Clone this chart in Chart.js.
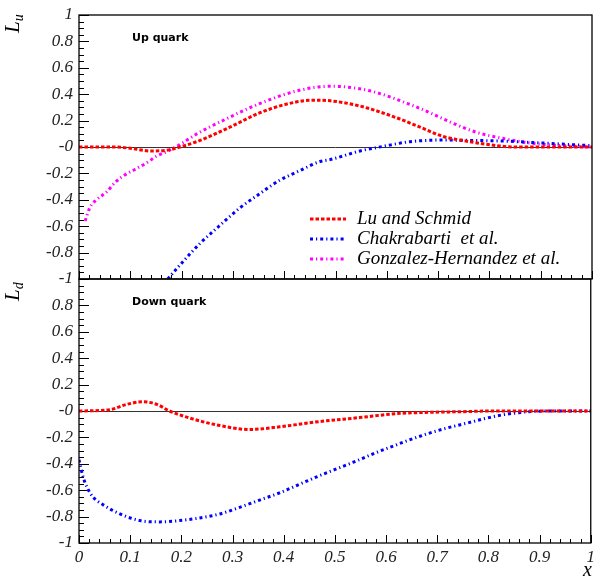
<!DOCTYPE html>
<html>
<head>
<meta charset="utf-8">
<script src="https://cdn.jsdelivr.net/npm/chart.js@4/dist/chart.umd.min.js"></script>
<style>
  body { margin: 0; background: #fff; }
  #wrap { position: relative; width: 599px; height: 578px; }
  canvas { position: absolute; left: 0; }
  #up { top: 0; }
  #down { top: 270px; }
</style>
</head>
<body>
<div id="wrap">
  <canvas id="up" width="599" height="290"></canvas>
  <canvas id="down" width="599" height="308"></canvas>
</div>
<script>
////////////////////////////// dades ///////////////////////////////////////////
const seriesNames = ['Lu and Schmid', 'Chakrabarti  et al.', 'Gonzalez-Hernandez et al.']

// up quark, L_u
const upLuX = [0, 0.04, 0.07, 0.1, 0.14, 0.17, 0.197, 0.236, 0.294, 0.353, 0.41, 0.456, 0.49, 0.548, 0.62, 0.665, 0.71, 0.762, 0.815, 0.846, 0.9, 0.95, 1]
const upLuY = [0, 0, 0, -0.01, -0.03, -0.025, 0, 0.05, 0.15, 0.26, 0.33, 0.355, 0.35, 0.31, 0.22, 0.15, 0.08, 0.04, 0.01, 0, 0, 0, 0]

const upChX = [0.173, 0.2, 0.236, 0.27, 0.314, 0.35, 0.392, 0.43, 0.47, 0.49, 0.548, 0.593, 0.645, 0.71, 0.762, 0.827, 0.905, 0.95, 1]
const upChY = [-1, -0.88, -0.73, -0.61, -0.46, -0.36, -0.25, -0.18, -0.11, -0.095, -0.03, 0.005, 0.04, 0.053, 0.05, 0.045, 0.03, 0.02, 0.01]

const upGhX = [0.012, 0.021, 0.034, 0.054, 0.07, 0.09, 0.109, 0.132, 0.151, 0.171, 0.193, 0.23, 0.275, 0.353, 0.43, 0.49, 0.52, 0.573, 0.64, 0.684, 0.729, 0.776, 0.82, 0.879, 0.944, 1]
const upGhY = [-0.56, -0.46, -0.40, -0.34, -0.27, -0.21, -0.17, -0.12, -0.07, -0.035, 0.01, 0.1, 0.19, 0.33, 0.43, 0.46, 0.455, 0.42, 0.33, 0.26, 0.18, 0.11, 0.07, 0.03, 0.01, 0]

// down quark, L_d
const downLuX = [0, 0.06, 0.093, 0.125, 0.152, 0.177, 0.222, 0.275, 0.333, 0.392, 0.47, 0.548, 0.62, 0.684, 0.75, 0.8, 0.9, 1]
const downLuY = [0, 0.01, 0.05, 0.07, 0.05, 0, -0.06, -0.11, -0.14, -0.12, -0.08, -0.05, -0.02, -0.01, -0.005, 0, 0, 0]

const downChX = [0, 0.008, 0.016, 0.027, 0.047, 0.08, 0.119, 0.158, 0.197, 0.236, 0.275, 0.314, 0.353, 0.392, 0.431, 0.47, 0.502, 0.535, 0.58, 0.619, 0.645, 0.691, 0.717, 0.762, 0.801, 0.834, 0.86, 0.879, 0.94, 1]
const downChY = [-0.37, -0.5, -0.58, -0.65, -0.71, -0.78, -0.83, -0.84, -0.83, -0.81, -0.78, -0.73, -0.675, -0.62, -0.555, -0.49, -0.44, -0.39, -0.316, -0.258, -0.22, -0.16, -0.131, -0.088, -0.05, -0.025, -0.013, -0.005, 0, 0]

const yTicks = [-1, -0.8, -0.6, -0.4, -0.2, 0, 0.2, 0.4, 0.6, 0.8, 1]
const xTicks = [0, 0.1, 0.2, 0.3, 0.4, 0.5, 0.6, 0.7, 0.8, 0.9, 1]
////////////////////////////////////////////////////////////////////////////////

const serif = '"Liberation Serif", "Times New Roman", serif'

function punts(xs, ys) {
  return xs.map((x, i) => ({ x: x, y: ys[i] }))
}

function estil(label, color, dash, data) {
  return {
    label: label,
    data: data,
    borderColor: color,
    borderWidth: 3,
    borderDash: dash,
    pointRadius: 0,
    fill: false,
    cubicInterpolationMode: 'monotone'
  }
}

function etiquetaY(v) {
  if (Math.abs(v) < 1e-9) return '-0'
  return String(+v.toFixed(1))
}

////////////////// marc, ticks interiors i linia del zero //////////////////////
const marcPlugin = {
  id: 'marc',
  beforeDatasetsDraw(chart) {
    const ctx = chart.ctx
    const a = chart.chartArea
    const xs = chart.scales.x
    const ys = chart.scales.y
    ctx.save()
    // linia del zero
    ctx.strokeStyle = '#333'
    ctx.lineWidth = 1
    ctx.beginPath()
    let y0 = Math.round(ys.getPixelForValue(0)) + 0.5
    ctx.moveTo(a.left, y0)
    ctx.lineTo(a.right, y0)
    ctx.stroke()
    // ticks eix y
    ctx.strokeStyle = '#000'
    ctx.beginPath()
    for (let i = 0; i <= 40; i++) {
      let v = -1 + i * 0.05
      let py = Math.round(ys.getPixelForValue(v)) + 0.5
      let len = (i % 4 === 0) ? 10 : 5
      ctx.moveTo(a.left, py)
      ctx.lineTo(a.left + len, py)
    }
    // ticks eix x
    for (let i = 0; i <= 50; i++) {
      let v = i * 0.02
      let px = Math.round(xs.getPixelForValue(v)) + 0.5
      let len = (i % 5 === 0) ? 8 : 4
      ctx.moveTo(px, a.bottom)
      ctx.lineTo(px, a.bottom - len)
    }
    ctx.stroke()
    ctx.restore()
  },
  afterDraw(chart) {
    const ctx = chart.ctx
    const a = chart.chartArea
    ctx.save()
    ctx.strokeStyle = '#000'
    ctx.lineWidth = 1.3
    ctx.strokeRect(a.left, a.top, a.right - a.left, a.bottom - a.top)
    ctx.restore()
  }
}

/////////////////////// textos de cada panell //////////////////////////////////
function textPlugin(titol, sub, titolY, llegenda) {
  return {
    id: 'textos',
    afterDraw(chart) {
      const ctx = chart.ctx
      const a = chart.chartArea
      ctx.save()
      ctx.fillStyle = '#000'
      ctx.font = 'bold 11px "DejaVu Sans", sans-serif'
      ctx.textBaseline = 'middle'
      ctx.textAlign = 'left'
      ctx.fillText(titol, 132, a.top + 23)

      // titol eix y, girat
      ctx.translate(19, titolY)
      ctx.rotate(-Math.PI / 2)
      ctx.textBaseline = 'alphabetic'
      ctx.font = 'italic 21px ' + serif
      ctx.fillText('L', 0, 0)
      let w = ctx.measureText('L').width
      ctx.font = 'italic 14px ' + serif
      ctx.fillText(sub, w, 4)
      ctx.restore()

      if (llegenda) {
        ctx.save()
        chart.data.datasets.forEach((ds, i) => {
          let py = 219 + i * 20
          ctx.strokeStyle = ds.borderColor
          ctx.lineWidth = ds.borderWidth
          ctx.setLineDash(ds.borderDash)
          ctx.beginPath()
          ctx.moveTo(310, py)
          ctx.lineTo(346, py)
          ctx.stroke()
          ctx.setLineDash([])
          ctx.fillStyle = '#000'
          ctx.font = 'italic 19px ' + serif
          ctx.textBaseline = 'middle'
          ctx.fillText(ds.label, 357, py)
        })
        ctx.restore()
      }
    }
  }
}

function escalaY(amagaDalt) {
  return {
    type: 'linear',
    min: -1,
    max: 1,
    afterFit: s => { s.width = 79 },
    afterBuildTicks: s => { s.ticks = yTicks.map(v => ({ value: v })) },
    grid: { display: false, drawTicks: false },
    border: { display: false },
    ticks: {
      padding: 6,
      color: '#222',
      font: { family: serif, size: 17, style: 'italic', lineHeight: 0.1 },
      callback: v => (amagaDalt && v === 1) ? '' : etiquetaY(v)
    }
  }
}

////////////////////////// grafica up quark ////////////////////////////////////
const dash1 = [3.5, 2]
const dash2 = [3, 3, 1.2, 3]
var up_chart = new Chart(document.getElementById('up').getContext('2d'), {
  type: 'line',
  data: {
    datasets: [
      estil(seriesNames[0], '#ff0000', dash1, punts(upLuX, upLuY)),
      estil(seriesNames[1], '#0000ff', dash2, punts(upChX, upChY)),
      estil(seriesNames[2], '#ff00ff', dash2, punts(upGhX, upGhY))
    ]
  },
  options: {
    responsive: false,
    animation: false,
    devicePixelRatio: 1,
    layout: { autoPadding: false, padding: { top: 15, right: 7, bottom: 11, left: 0 } },
    plugins: { legend: { display: false }, tooltip: { enabled: false } },
    scales: {
      x: { type: 'linear', min: 0, max: 1, display: false },
      y: escalaY(false)
    }
  },
  plugins: [marcPlugin, textPlugin('Up quark', 'u', 33, true)]
});

////////////////////////// grafica down quark //////////////////////////////////
var down_chart = new Chart(document.getElementById('down').getContext('2d'), {
  type: 'line',
  data: {
    datasets: [
      estil(seriesNames[0], '#ff0000', dash1, punts(downLuX, downLuY)),
      estil(seriesNames[1], '#0000ff', dash2, punts(downChX, downChY))
    ]
  },
  options: {
    responsive: false,
    animation: false,
    devicePixelRatio: 1,
    layout: { autoPadding: false, padding: { top: 9, right: 7, bottom: 0, left: 0 } },
    plugins: { legend: { display: false }, tooltip: { enabled: false } },
    scales: {
      x: {
        type: 'linear',
        min: 0,
        max: 1,
        afterFit: s => { s.height = 35 },
        afterBuildTicks: s => { s.ticks = xTicks.map(v => ({ value: v })) },
        grid: { display: false, drawTicks: false },
        border: { display: false },
        ticks: {
          padding: 4,
          maxRotation: 0,
          color: '#222',
          font: { family: serif, size: 17, style: 'italic' },
          callback: v => String(+v.toFixed(1))
        }
      },
      y: escalaY(true)
    }
  },
  plugins: [marcPlugin, textPlugin('Down quark', 'd', 31, false), {
    id: 'titolX',
    afterDraw(chart) {
      const ctx = chart.ctx
      ctx.save()
      ctx.fillStyle = '#000'
      ctx.font = 'italic 20px ' + serif
      ctx.textAlign = 'right'
      ctx.textBaseline = 'alphabetic'
      ctx.fillText('x', 592, 306)
      ctx.restore()
    }
  }]
});
</script>
</body>
</html>
